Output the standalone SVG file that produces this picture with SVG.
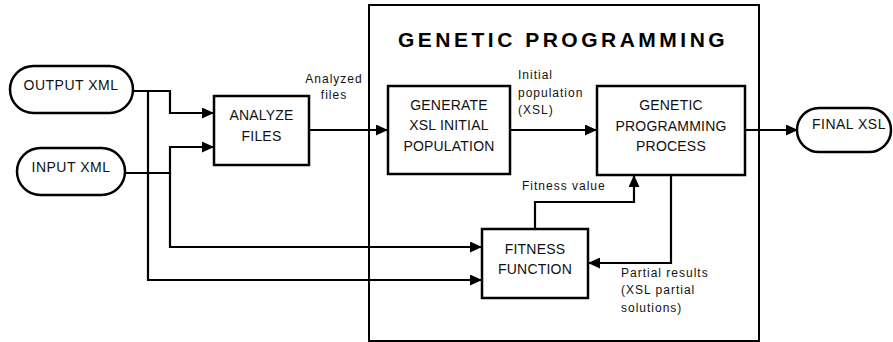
<svg xmlns="http://www.w3.org/2000/svg" width="893" height="342" viewBox="0 0 893 342">
<defs>
<style>
.box{fill:#fff;stroke:#000;stroke-width:2.5}
.frame{fill:none;stroke:#000;stroke-width:2}
.lbl{font-family:"Liberation Sans",Arial,sans-serif;font-size:14px;fill:#111;text-anchor:middle;letter-spacing:0.2px}
.pl{font-family:"Liberation Sans",Arial,sans-serif;font-size:14px;fill:#111;text-anchor:middle;letter-spacing:0.5px}
.note{font-family:"Liberation Sans",Arial,sans-serif;font-size:12px;fill:#111;letter-spacing:1px}
.title{font-family:"Liberation Sans",Arial,sans-serif;font-size:21px;font-weight:bold;fill:#000;letter-spacing:3.5px}
.ln{fill:none;stroke:#000;stroke-width:2.2;stroke-linejoin:miter}
.ar{marker-end:url(#ah)}
</style>
<marker id="ah" markerWidth="12" markerHeight="11" refX="11" refY="5.5" orient="auto" markerUnits="userSpaceOnUse">
<path d="M0,0 L12,5.5 L0,11 Z" fill="#000"/>
</marker>
</defs>
<rect width="893" height="342" fill="#fff"/>

<g id="gp-frame">
<rect class="frame" x="369" y="5" width="390" height="336"/>
<text class="title" x="398" y="47">GENETIC PROGRAMMING</text>
</g>

<g id="connectors">
<path class="ln ar" d="M133,91 H170 V113 H213"/>
<path class="ln ar" d="M148,91 V280 H481"/>
<path class="ln" d="M125,173 H170"/>
<path class="ln ar" d="M170,173 V147 H213"/>
<path class="ln ar" d="M170,173 V247 H481"/>
<path class="ln ar" d="M309,130 H387"/>
<path class="ln ar" d="M510,130 H596"/>
<path class="ln ar" d="M745,130 H797"/>
<path class="ln ar" d="M535,229 V202 H634 V176"/>
<path class="ln ar" d="M671,175 V263 H589"/>
<text class="note" x="334" y="83" text-anchor="middle">Analyzed</text>
<text class="note" x="334" y="99" text-anchor="middle">files</text>
<text class="note" x="518" y="79">Initial</text>
<text class="note" x="518" y="97">population</text>
<text class="note" x="518" y="114">(XSL)</text>
<text class="note" x="522" y="190">Fitness value</text>
<text class="note" x="621" y="277">Partial results</text>
<text class="note" x="621" y="294">(XSL partial</text>
<text class="note" x="621" y="312">solutions)</text>
</g>

<g id="output-xml">
<rect class="box" x="10" y="66" width="123" height="47" rx="23.5"/>
<text class="pl" x="71" y="90">OUTPUT XML</text>
</g>

<g id="input-xml">
<rect class="box" x="17" y="148" width="108" height="47" rx="23.5"/>
<text class="pl" x="71" y="172">INPUT XML</text>
</g>

<g id="analyze-files">
<rect class="box" x="214" y="96" width="95" height="69"/>
<text class="lbl" x="261.5" y="120">ANALYZE</text>
<text class="lbl" x="261.5" y="141">FILES</text>
</g>

<g id="generate">
<rect class="box" x="388" y="86" width="122" height="88"/>
<text class="lbl" x="449" y="110">GENERATE</text>
<text class="lbl" x="449" y="130">XSL INITIAL</text>
<text class="lbl" x="449" y="151">POPULATION</text>
</g>

<g id="gp-process">
<rect class="box" x="597" y="86" width="148" height="89"/>
<text class="lbl" x="671" y="110">GENETIC</text>
<text class="lbl" x="671" y="131">PROGRAMMING</text>
<text class="lbl" x="671" y="151">PROCESS</text>
</g>

<g id="final-xsl">
<rect class="box" x="797" y="108" width="94" height="44" rx="22"/>
<text class="pl" x="849" y="129">FINAL XSL</text>
</g>

<g id="fitness">
<rect class="box" x="482" y="229" width="106" height="69"/>
<text class="lbl" x="535" y="254">FITNESS</text>
<text class="lbl" x="535" y="274">FUNCTION</text>
</g>
</svg>
